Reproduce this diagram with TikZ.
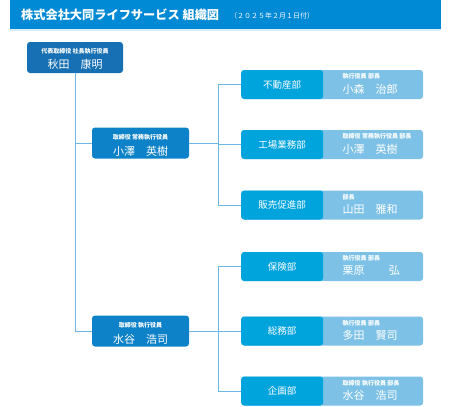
\documentclass[tikz,border=0pt]{standalone}
\usepackage{fontspec}
\setmainfont{Noto Sans CJK JP}
\definecolor{barblue}{HTML}{0089D4}
\definecolor{topblue}{HTML}{1670B3}
\definecolor{execblue}{HTML}{0E82C8}
\definecolor{deptblue}{HTML}{00A4DD}
\definecolor{perslight}{HTML}{7DC2E6}
\definecolor{linkblue}{HTML}{6BB8E6}
\definecolor{barshadow}{HTML}{DCEAF2}
\tikzset{
  execbox/.style={draw=none, rounded corners=3pt, minimum width=97pt, minimum height=31pt, inner sep=0pt},
  deptbox/.style={fill=deptblue, rounded corners=3pt, minimum width=82pt, minimum height=29pt, inner sep=0pt, text=white, font=\fontsize{9.5}{10}\selectfont},
  persbox/.style={fill=perslight, rounded corners=3pt, minimum width=182pt, minimum height=29pt, inner sep=0pt},
  roletxt/.style={text=white, inner sep=0pt, font=\bfseries\fontsize{6}{6.5}\selectfont},
  nametxt/.style={text=white, inner sep=0pt, font=\fontsize{11}{12}\selectfont},
  conn/.style={draw=linkblue, line width=0.9pt},
}
\begin{document}
\begin{tikzpicture}[x=1pt,y=-1pt]
\useasboundingbox (0,0) rectangle (450,407);
% title bar
\fill[barshadow] (10,29) rectangle (441,31);
\node[fill=barblue, minimum width=431pt, minimum height=29pt, inner sep=0pt, anchor=north west] (bar) at (10,0) {};
\node[anchor=west, text=white, inner sep=0pt, font=\bfseries\fontsize{12.2}{13}\selectfont] (title) at (21,15) {株式会社大同ライフサービス 組織図};
\node[anchor=west, text=white, inner sep=0pt, font=\fontsize{7}{8}\selectfont] (date) at (230,15.5) {（２０２５年２月１日付）};
% executives
\node[execbox, fill=topblue, minimum width=96pt] (ceo) at (75,57.5) {};
\node[roletxt] (ceor) at (75,51) {代表取締役 社長執行役員};
\node[nametxt] (ceon) at (75,64) {秋田\hspace{1em}康明};
\node[execbox, fill=execblue] (oz) at (140.5,143) {};
\node[roletxt] (ozr) at (140.5,137) {取締役 常務執行役員};
\node[nametxt] (ozn) at (140.5,151) {小澤\hspace{1em}英樹};
\node[execbox, fill=execblue] (mz) at (140.5,331) {};
\node[roletxt] (mzr) at (140.5,325) {取締役 執行役員};
\node[nametxt] (mzn) at (140.5,339) {水谷\hspace{1em}浩司};
% departments
\foreach \id/\y/\dept/\role/\name in {
  d1/84.5/不動産部/執行役員 部長/小森\hspace{1em}治郎,
  d2/144.5/工場業務部/取締役 常務執行役員 部長/小澤\hspace{1em}英樹,
  d3/205/販売促進部/部長/山田\hspace{1em}雅和,
  d4/266.5/保険部/執行役員 部長/栗原\hspace{2.2em}弘,
  d5/331/総務部/執行役員 部長/多田\hspace{1em}賢司,
  d6/391/企画部/取締役 執行役員 部長/水谷\hspace{1em}浩司}{
  \node[persbox, anchor=west] (\id p) at (241,\y) {};
  \node[deptbox, anchor=west] (\id) at (241,\y) {\dept};
  \node[roletxt, anchor=west] (\id r) at (342.5,\y-8) {\role};
  \node[nametxt, anchor=west] (\id n) at (342.5,\y+4.5) {\name};
}
% connectors
\draw[conn] (ceo.south) -- (ceo.south |- mz.west) -- (mz.west);
\draw[conn] (ceo.south |- oz.west) -- (oz.west);
\coordinate (j1) at (218,143);
\coordinate (j2) at (218,331);
\draw[conn] (oz.east) -- (j1);
\draw[conn] (mz.east) -- (j2);
\draw[conn] (j1 |- d1.west) -- (j1 |- d3.west);
\draw[conn] (j2 |- d4.west) -- (j2 |- d6.west);
\foreach \id in {d1,d2,d3,d4,d5,d6}{
  \draw[conn] (j1 |- \id.west) -- (\id.west);
}
\end{tikzpicture}
\end{document}
